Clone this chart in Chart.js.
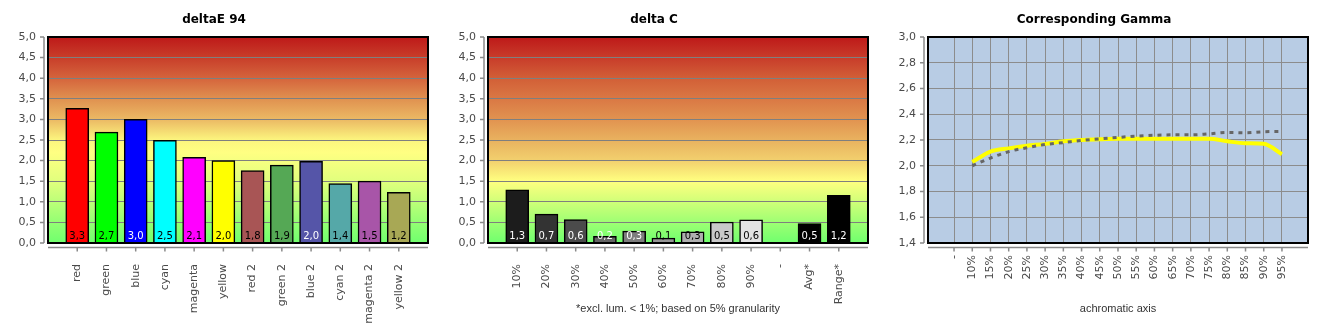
<!DOCTYPE html>
<html>
<head>
<meta charset="utf-8">
<title>deltaE 94 / delta C / Corresponding Gamma</title>
<script src="https://cdn.jsdelivr.net/npm/chart.js@4.4.1/dist/chart.umd.min.js"></script>
<style>
  body { margin: 0; background: #fff; }
  #wrap { position: relative; width: 1330px; height: 330px; }
  canvas { position: absolute; top: 0; }
</style>
</head>
<body>
<div id="wrap">
  <canvas id="cDeltaE" width="450" height="330" style="left:0"></canvas>
  <canvas id="cDeltaC" width="450" height="330" style="left:440px"></canvas>
  <canvas id="cGamma" width="450" height="330" style="left:880px"></canvas>
</div>
<script>
// deltaE 94
const deltaECats = ['red', 'green', 'blue', 'cyan', 'magenta', 'yellow', 'red 2', 'green 2', 'blue 2', 'cyan 2', 'magenta 2', 'yellow 2'];
const deltaEVals = [3.27, 2.69, 3.0, 2.49, 2.08, 2.0, 1.76, 1.89, 1.98, 1.44, 1.5, 1.23];
const deltaEColors = ['#ff0000', '#00ff00', '#0000ff', '#00ffff', '#ff00ff', '#ffff00', '#a85555', '#55a855', '#5555a8', '#55a8a8', '#a855a8', '#a8a855'];
const deltaETextColors = ['#000', '#000', '#fff', '#000', '#000', '#000', '#000', '#000', '#fff', '#000', '#000', '#000'];

// delta C
const deltaCCats = ['10%', '20%', '30%', '40%', '50%', '60%', '70%', '80%', '90%', '-', 'Avg*', 'Range*'];
const deltaCVals = [1.29, 0.70, 0.57, 0.16, 0.29, 0.12, 0.27, 0.51, 0.56, null, 0.47, 1.16];
const deltaCColors = ['#1c1c1c', '#333333', '#4b4b4b', '#646464', '#7d7d7d', '#969696', '#afafaf', '#c8c8c8', '#e3e3e3', '#000', '#000', '#000'];
const deltaCTextColors = ['#fff', '#fff', '#fff', '#fff', '#fff', '#000', '#000', '#000', '#000', '#fff', '#fff', '#fff'];

// Corresponding Gamma
const gammaLabels = ['-', '10%', '15%', '20%', '25%', '30%', '35%', '40%', '45%', '50%', '55%', '60%', '65%', '70%', '75%', '80%', '85%', '90%', '95%'];
const gammaMeasured = [null, 2.03, 2.11, 2.135, 2.155, 2.17, 2.19, 2.20, 2.205, 2.21, 2.21, 2.21, 2.21, 2.21, 2.21, 2.19, 2.175, 2.17, 2.09];
const gammaTarget = [null, 2.00, 2.06, 2.11, 2.14, 2.165, 2.18, 2.196, 2.209, 2.22, 2.23, 2.237, 2.24, 2.24, 2.248, 2.258, 2.256, 2.264, 2.266];

const fmt = v => v.toFixed(1).replace('.', ',');
const pad = arr => [null, ...arr, null];

const framePlugin = {
    id: 'frame',
    beforeDraw(chart, args, opts) {
        const { ctx, chartArea: a } = chart;
        ctx.save();
        if (opts.stops) {
            const g = ctx.createLinearGradient(0, a.top, 0, a.bottom);
            opts.stops.forEach(s => g.addColorStop(s[0], s[1]));
            ctx.fillStyle = g;
        } else {
            ctx.fillStyle = opts.fill;
        }
        ctx.fillRect(a.left, a.top, a.right - a.left, a.bottom - a.top);
        ctx.restore();
    },
    afterDraw(chart) {
        const { ctx, chartArea: a, scales } = chart;
        const x = scales.x, y = scales.y;
        ctx.save();
        ctx.strokeStyle = '#000';
        ctx.lineWidth = 2;
        ctx.strokeRect(a.left, a.top, a.right - a.left, a.bottom - a.top);
        // offset grey axes with small tick marks
        ctx.strokeStyle = '#8a8a8a';
        ctx.lineWidth = 1.5;
        const ax = a.left - 4, ay = a.bottom + 4.5;
        ctx.beginPath();
        ctx.moveTo(ax, a.top);
        ctx.lineTo(ax, a.bottom);
        y.ticks.forEach((t, i) => {
            const p = y.getPixelForTick(i);
            ctx.moveTo(ax - 4, p);
            ctx.lineTo(ax, p);
        });
        ctx.moveTo(a.left, ay);
        ctx.lineTo(a.right, ay);
        x.ticks.forEach((t, i) => {
            if (!t.label) return;
            const p = x.getPixelForTick(i);
            ctx.moveTo(p, ay);
            ctx.lineTo(p, ay + 4);
        });
        ctx.stroke();
        ctx.restore();
    }
};

const valueLabels = {
    id: 'valueLabels',
    afterDatasetsDraw(chart, args, opts) {
        if (!opts.colors) return;
        const { ctx, chartArea: a } = chart;
        const meta = chart.getDatasetMeta(0);
        const data = chart.data.datasets[0].data;
        ctx.save();
        ctx.font = '10px "DejaVu Sans"';
        ctx.textAlign = 'center';
        ctx.textBaseline = 'middle';
        meta.data.forEach((bar, i) => {
            if (data[i] == null) return;
            ctx.fillStyle = opts.colors[i];
            ctx.fillText(fmt(data[i]), bar.x, a.bottom - 7);
        });
        ctx.restore();
    }
};

const tickFont = { family: 'DejaVu Sans', size: 11 };
const tickColor = '#4a4a4a';
const titleOpts = text => ({
    display: true,
    text: text,
    color: '#000',
    font: { family: 'DejaVu Sans', size: 12, weight: 'bold' },
    padding: { top: 13, bottom: 9.6 }
});
const fitX = s => { s.height = 87; s.paddingLeft = 0; s.paddingRight = 0; };

function barChart(id, title, cats, vals, colors, textColors, stops, note) {
    const ctx = document.getElementById(id).getContext('2d');
    return new Chart(ctx, {
        type: 'bar',
        data: {
            labels: ['', ...cats, ''],
            datasets: [{
                data: pad(vals),
                backgroundColor: pad(colors),
                borderColor: '#000',
                borderWidth: 1.5,
                barThickness: 23
            }]
        },
        options: {
            responsive: false,
            animation: false,
            layout: { padding: { left: 0, right: 22, top: 0, bottom: 0 } },
            scales: {
                x: {
                    offset: false,
                    afterFit: fitX,
                    grid: { display: false },
                    border: { display: false },
                    ticks: {
                        autoSkip: false, maxRotation: 90, minRotation: 90, padding: 13,
                        font: tickFont, color: tickColor
                    },
                    title: note ? {
                        display: true, text: note, color: '#333',
                        font: { family: 'Liberation Sans', size: 11 },
                        padding: { top: 0, bottom: 14.4 }
                    } : { display: false }
                },
                y: {
                    min: 0, max: 5,
                    afterFit: s => { s.width = 48; },
                    grid: { color: '#7f7f7f', lineWidth: 1, drawTicks: false },
                    border: { display: false },
                    ticks: { stepSize: 0.5, padding: 12, font: tickFont, color: tickColor, callback: v => fmt(v) }
                }
            },
            plugins: {
                legend: { display: false },
                tooltip: { enabled: false },
                title: titleOpts(title),
                frame: { stops: stops },
                valueLabels: { colors: pad(textColors) }
            }
        },
        plugins: [framePlugin, valueLabels]
    });
}

barChart('cDeltaE', 'deltaE 94', deltaECats, deltaEVals, deltaEColors, deltaETextColors, [
    [0, 'rgb(190,25,25)'], [0.1, 'rgb(200,62,42)'], [0.2, 'rgb(213,100,60)'], [0.3, 'rgb(224,145,80)'],
    [0.4, 'rgb(235,185,100)'], [0.5, 'rgb(252,245,126)'], [0.56, 'rgb(255,255,130)'], [0.7, 'rgb(225,255,125)'],
    [0.8, 'rgb(188,255,120)'], [0.9, 'rgb(148,255,115)'], [1, 'rgb(112,255,110)']
], null);

barChart('cDeltaC', 'delta C', deltaCCats, deltaCVals, deltaCColors, deltaCTextColors, [
    [0, 'rgb(190,25,25)'], [0.1, 'rgb(200,60,42)'], [0.2, 'rgb(210,95,55)'], [0.3, 'rgb(218,120,68)'],
    [0.4, 'rgb(225,147,80)'], [0.5, 'rgb(233,178,95)'], [0.6, 'rgb(242,208,110)'], [0.7, 'rgb(255,255,128)'],
    [0.8, 'rgb(208,255,120)'], [0.9, 'rgb(158,255,115)'], [1, 'rgb(112,255,110)']
], '*excl. lum. < 1%; based on 5% granularity');

new Chart(document.getElementById('cGamma').getContext('2d'), {
    type: 'line',
    data: {
        datasets: [{
            data: gammaLabels.map((l, i) => ({ x: i, y: gammaTarget[i] })),
            borderColor: '#666666',
            borderWidth: 3,
            borderDash: [4, 5],
            pointRadius: 0,
            fill: false,
            cubicInterpolationMode: 'monotone'
        }, {
            data: gammaLabels.map((l, i) => ({ x: i, y: gammaMeasured[i] })),
            borderColor: '#ffff00',
            borderWidth: 4,
            pointRadius: 0,
            fill: false,
            cubicInterpolationMode: 'monotone'
        }]
    },
    options: {
        responsive: false,
        animation: false,
        layout: { padding: { left: 0, right: 22, top: 0, bottom: 0 } },
        scales: {
            x: {
                type: 'linear',
                min: -1.43, max: 19.43,
                afterFit: fitX,
                afterBuildTicks: s => { s.ticks = gammaLabels.map((l, i) => ({ value: i })); },
                grid: { color: '#8c8c8c', lineWidth: 1, drawTicks: false },
                border: { display: false },
                ticks: {
                    autoSkip: false, maxRotation: 90, minRotation: 90, padding: 12,
                    font: tickFont, color: tickColor,
                    callback: v => gammaLabels[v]
                },
                title: {
                    display: true, text: 'achromatic axis', color: '#333',
                    font: { family: 'Liberation Sans', size: 11 },
                    padding: { top: 0, bottom: 14.4 }
                }
            },
            y: {
                min: 1.4, max: 3.0,
                afterFit: s => { s.width = 48; },
                grid: { color: '#8c8c8c', lineWidth: 1, drawTicks: false },
                border: { display: false },
                ticks: { stepSize: 0.2, padding: 12, font: tickFont, color: tickColor, callback: v => fmt(v) }
            }
        },
        plugins: {
            legend: { display: false },
            tooltip: { enabled: false },
            title: titleOpts('Corresponding Gamma'),
            frame: { fill: '#b8cce4' }
        }
    },
    plugins: [framePlugin]
});
</script>
</body>
</html>
